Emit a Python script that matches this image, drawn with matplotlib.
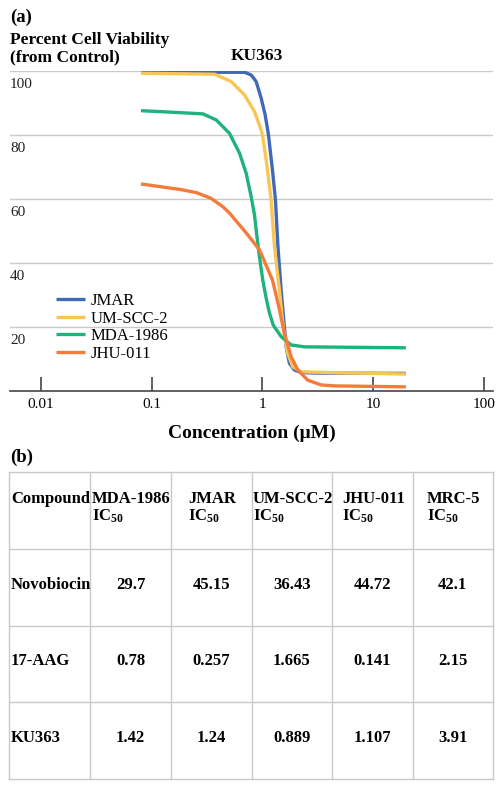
import matplotlib
matplotlib.use("Agg")
import matplotlib.pyplot as plt
from matplotlib.lines import Line2D

plt.rcParams['font.family'] = ['Liberation Serif', 'DejaVu Serif']
plt.rcParams['mathtext.default'] = 'regular'

# ---------------- data ----------------
series_names = ["JMAR", "UM-SCC-2", "MDA-1986", "JHU-011"]
series_colors = ["#4169B8", "#F9C653", "#1FB27C", "#F47B3A"]

jmar_x = [0.08, 0.3, 0.689, 0.791, 0.877, 0.973, 1.058, 1.133, 1.23, 1.31, 1.379, 1.474,
          1.635, 1.751, 1.942, 2.232, 3.05, 19.7]
jmar_y = [99.6, 99.6, 99.6, 98.75, 96.7, 91.5, 86.25, 80.0, 69.1, 59.7, 45.1, 31.6,
          13.8, 8.66, 6.56, 5.78, 5.6, 5.5]

umscc_x = [0.08, 0.3695, 0.522, 0.689, 0.847, 0.94, 1.0, 1.08, 1.197, 1.282, 1.422, 1.562,
           1.69, 1.875, 2.232, 4.45, 19.7]
umscc_y = [99.3, 99.0, 96.7, 92.5, 87.3, 83.1, 80.0, 72.2, 59.7, 45.1, 31.6, 18.0,
           11.8, 7.6, 6.0, 5.7, 5.3]

mda_x = [0.08, 0.179, 0.29, 0.383, 0.504, 0.621, 0.713, 0.791, 0.847, 0.9, 0.96, 1.006,
         1.08, 1.156, 1.25, 1.474, 1.814, 2.39, 19.7]
mda_y = [87.6, 87.0, 86.6, 84.7, 80.5, 74.3, 68.0, 60.7, 55.0, 47.0, 39.5, 34.7,
         29.0, 24.4, 20.6, 17.0, 14.4, 13.8, 13.5]

jhu_x = [0.08, 0.179, 0.253, 0.3436, 0.4387, 0.504, 0.713, 0.94, 1.23, 1.4, 1.578, 1.814,
         2.08, 2.56, 3.38, 4.45, 19.7]
jhu_y = [64.7, 63.0, 62.0, 60.2, 57.6, 55.6, 49.4, 44.1, 34.7, 26.5, 18.0, 10.7,
         6.6, 3.4, 1.9, 1.6, 1.3]

x_ticks = [0.01, 0.1, 1, 10, 100]
x_tick_labels = ["0.01", "0.1", "1", "10", "100"]
y_ticks = [20, 40, 60, 80, 100]

table_header = ["Compound", "MDA-1986\nIC$_{50}$", "JMAR\nIC$_{50}$", "UM-SCC-2\nIC$_{50}$",
                "JHU-011\nIC$_{50}$", "MRC-5\nIC$_{50}$"]
compounds = ["Novobiocin", "17-AAG", "KU363"]
ic50_values = [
    ["29.7", "45.15", "36.43", "44.72", "42.1"],
    ["0.78", "0.257", "1.665", "0.141", "2.15"],
    ["1.42", "1.24", "0.889", "1.107", "3.91"],
]

# ---------------- figure ----------------
W, H = 503, 789
fig = plt.figure(figsize=(W / 100, H / 100), dpi=100)

def fx(px):
    return px / W

def fy(py):
    return 1 - py / H

ax = fig.add_axes([fx(10), fy(391), fx(493) - fx(10), fy(71) - fy(391)])
ax.set_xscale('log')
ax.set_xlim(10 ** (-2 - 31 / 111), 10 ** (2 + 9 / 111))
ax.set_ylim(0, 100)

for v in y_ticks:
    ax.axhline(v, color="#C9C9C9", lw=1.0, zorder=0)

xs = [jmar_x, umscc_x, mda_x, jhu_x]
ys = [jmar_y, umscc_y, mda_y, jhu_y]
handles = []
for x, y, c, n in zip(xs, ys, series_colors, series_names):
    ln, = ax.plot(x, y, color=c, lw=2.4, solid_capstyle='butt', solid_joinstyle='round',
                  label=n, zorder=3)
    handles.append(ln)

for s in ['top', 'right', 'left']:
    ax.spines[s].set_visible(False)
ax.spines['bottom'].set_color('#444444')
ax.spines['bottom'].set_linewidth(1.2)

ax.set_xticks(x_ticks)
ax.set_xticklabels(x_tick_labels, fontsize=11)
ax.xaxis.set_minor_locator(matplotlib.ticker.NullLocator())
ax.tick_params(axis='x', direction='in', length=10, width=1.2, color='#444444', pad=5)
ax.set_yticks([])

for v in y_ticks:
    ax.text(0.0, v - 2.2, str(v), transform=ax.get_yaxis_transform(), ha='left', va='top',
            fontsize=11, color='#222222')

leg = ax.legend(handles=handles, loc='lower left', bbox_to_anchor=(fx(58) - fx(10), 0.091),
                bbox_transform=ax.transAxes, frameon=False, fontsize=12, handlelength=1.75,
                handletextpad=0.3, labelspacing=0.1, borderpad=0, borderaxespad=0)

fig.text(fx(10), fy(17), "(a)", fontsize=13.5, fontweight='bold', ha='left', va='center')
fig.text(fx(10), fy(40), "Percent Cell Viability", fontsize=12.5, fontweight='bold', ha='left', va='center')
fig.text(fx(10), fy(57), "(from Control)", fontsize=12.5, fontweight='bold', ha='left', va='center')
fig.text(fx(257), fy(56), "KU363", fontsize=12.5, fontweight='bold', ha='center', va='center')
fig.text(fx(252), fy(433), "Concentration (μM)", fontsize=14, fontweight='bold', ha='center', va='center')
fig.text(fx(10), fy(457), "(b)", fontsize=13.5, fontweight='bold', ha='left', va='center')

# ---------------- table ----------------
col_edges = [9, 90, 171, 251.7, 332, 412.7, 493]
row_edges = [472, 549.3, 626, 702.3, 779]
tcol = "#C9C9C9"
for cx in col_edges:
    fig.add_artist(Line2D([fx(cx), fx(cx)], [fy(row_edges[0]), fy(row_edges[-1])], color=tcol, lw=1.0))
for ry in row_edges:
    fig.add_artist(Line2D([fx(col_edges[0]), fx(col_edges[-1])], [fy(ry), fy(ry)], color=tcol, lw=1.0))

tfs = 12
for j, h in enumerate(table_header):
    cy = (row_edges[0] + row_edges[1]) / 2 - 3
    if j == 0:
        fig.text(fx(col_edges[0] + 2), fy(cy - 9), h, fontsize=tfs, fontweight='bold', ha='left', va='center')
    else:
        cx = (col_edges[j] + col_edges[j + 1]) / 2 + 1
        fig.text(fx(cx), fy(cy), h, fontsize=tfs, fontweight='bold', ha='center', va='center',
                 multialignment='left', linespacing=1.05)

for i, comp in enumerate(compounds):
    cy = (row_edges[i + 1] + row_edges[i + 2]) / 2 - 3
    fig.text(fx(col_edges[0] + 2), fy(cy), comp, fontsize=tfs, fontweight='bold', ha='left', va='center')
    for j, val in enumerate(ic50_values[i]):
        cx = (col_edges[j + 1] + col_edges[j + 2]) / 2
        fig.text(fx(cx), fy(cy), val, fontsize=tfs, fontweight='bold', ha='center', va='center')

fig.savefig("out.png", dpi=100, facecolor='white')
